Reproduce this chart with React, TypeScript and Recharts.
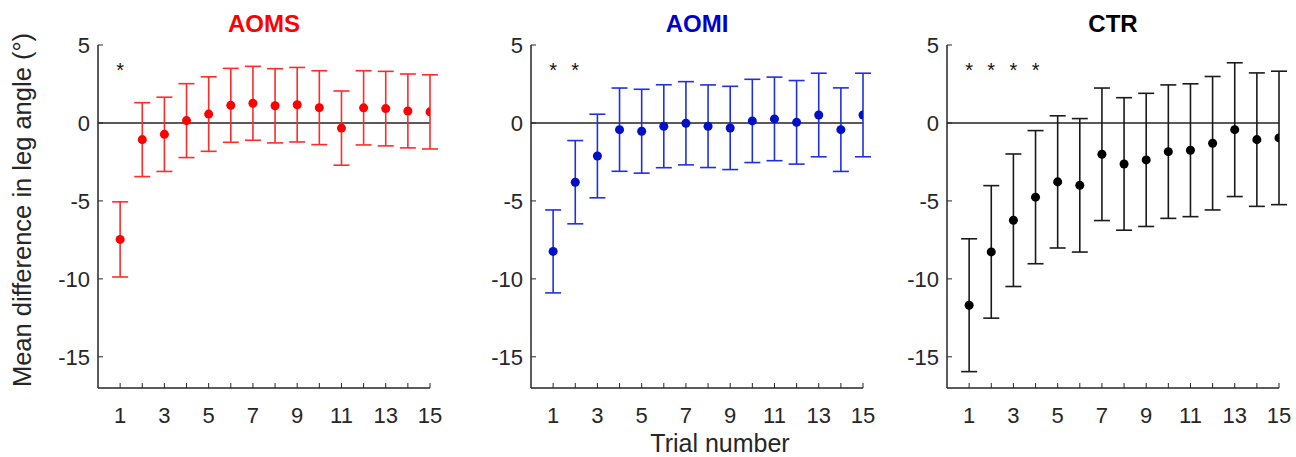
import { ScatterChart, Scatter, XAxis, YAxis, ErrorBar, ReferenceLine } from 'recharts';

const trials = [1, 2, 3, 4, 5, 6, 7, 8, 9, 10, 11, 12, 13, 14, 15];
const yTicks = [-15, -10, -5, 0, 5];

const aomsMean = [-7.47, -1.07, -0.73, 0.15, 0.57, 1.13, 1.26, 1.1, 1.17, 0.98, -0.33, 0.97, 0.92, 0.77, 0.71];
const aomsErr = [2.41, 2.37, 2.38, 2.37, 2.39, 2.37, 2.37, 2.38, 2.39, 2.37, 2.38, 2.38, 2.39, 2.37, 2.38];
const aomsStars = [1];

const aomiMean = [-8.24, -3.8, -2.12, -0.43, -0.53, -0.21, -0.02, -0.21, -0.32, 0.13, 0.26, 0.04, 0.51, -0.43, 0.51];
const aomiErr = [2.66, 2.67, 2.68, 2.67, 2.69, 2.66, 2.67, 2.65, 2.67, 2.67, 2.68, 2.68, 2.68, 2.68, 2.68];
const aomiStars = [1, 2];

const ctrMean = [-11.69, -8.27, -6.24, -4.76, -3.78, -4.0, -2.01, -2.63, -2.37, -1.84, -1.75, -1.3, -0.43, -1.07, -0.96];
const ctrErr = [4.26, 4.25, 4.25, 4.27, 4.24, 4.28, 4.25, 4.25, 4.27, 4.28, 4.26, 4.28, 4.29, 4.28, 4.28];
const ctrStars = [1, 2, 3, 4];

const STAR_Y = 3.65;
const AXIS = '#262626';
const FONT = '"Liberation Sans", Arial, sans-serif';

const PLOT_W = 332;
const Y_W = 60;

const XTick = ({ x, y, payload }: any) => (
  <g>
    <line x1={x} x2={x} y1={y} y2={y - 5} stroke={AXIS} strokeWidth={1} />
    <text x={x} y={y + 35} textAnchor="middle" fontSize={22} fill={AXIS} fontFamily={FONT}>
      {payload.value % 2 === 1 ? payload.value : ''}
    </text>
  </g>
);

const YTick = ({ x, y, payload }: any) => (
  <g>
    <line x1={x} x2={x + 5} y1={y} y2={y} stroke={AXIS} strokeWidth={1} />
    <text x={x - 8} y={y} dy="0.36em" textAnchor="end" fontSize={22} fill={AXIS} fontFamily={FONT}>
      {payload.value}
    </text>
  </g>
);

const Star = ({ cx, cy }: any) => (
  <text x={cx} y={cy + 11} textAnchor="middle" fontSize={20} fill="#111" fontFamily={FONT}>
    *
  </text>
);

interface PanelProps {
  plotLeft: number;
  means: number[];
  errs: number[];
  stars: number[];
  dot: string;
  bar: string;
}

const Panel = ({ plotLeft, means, errs, stars, dot, bar }: PanelProps) => {
  const data = trials.map((t, i) => ({ x: t, y: means[i], err: errs[i] }));
  const starData = stars.map((t) => ({ x: t, y: STAR_Y }));
  return (
    <div style={{ position: 'absolute', left: plotLeft - Y_W, top: 0 }}>
      <ScatterChart
        width={Y_W + PLOT_W + 16}
        height={457}
        margin={{ top: 45, right: 16, bottom: 0, left: 0 }}
      >
        <XAxis
          type="number"
          dataKey="x"
          domain={[0, 15]}
          ticks={trials}
          interval={0}
          height={69}
          tickSize={0}
          tickMargin={0}
          tickLine={false}
          tick={<XTick />}
          axisLine={{ stroke: AXIS, strokeWidth: 1.5 }}
          allowDataOverflow
        />
        <YAxis
          type="number"
          dataKey="y"
          domain={[-17, 5]}
          ticks={yTicks}
          interval={0}
          width={Y_W}
          tickSize={0}
          tickMargin={0}
          tickLine={false}
          tick={<YTick />}
          axisLine={{ stroke: AXIS, strokeWidth: 1.5 }}
          allowDataOverflow
        />
        <ReferenceLine y={0} stroke="#5a5a5a" strokeWidth={2} />
        <Scatter data={data} fill={dot} isAnimationActive={false}>
          <ErrorBar dataKey="err" direction="y" width={8} stroke={bar} strokeWidth={1.6} />
        </Scatter>
        <Scatter data={starData} shape={<Star />} isAnimationActive={false} />
      </ScatterChart>
    </div>
  );
};

const panels = [
  { title: 'AOMS', titleColor: '#ff0000', plotLeft: 98, means: aomsMean, errs: aomsErr, stars: aomsStars, dot: '#ff0000', bar: '#ff2a2a' },
  { title: 'AOMI', titleColor: '#0000cc', plotLeft: 531, means: aomiMean, errs: aomiErr, stars: aomiStars, dot: '#0010c8', bar: '#2030e0' },
  { title: 'CTR', titleColor: '#000000', plotLeft: 947, means: ctrMean, errs: ctrErr, stars: ctrStars, dot: '#000000', bar: '#1a1a1a' },
];

export default function App() {
  return (
    <div style={{ position: 'absolute', left: 0, top: 0, width: 1296, height: 457, background: '#fff', fontFamily: FONT }}>
      {panels.map((p) => (
        <Panel key={p.title} {...p} />
      ))}
      <svg width={1296} height={457} style={{ position: 'absolute', left: 0, top: 0, pointerEvents: 'none' }}>
        {panels.map((p) => (
          <text
            key={p.title}
            x={p.plotLeft + PLOT_W / 2}
            y={32}
            textAnchor="middle"
            fontSize={24}
            fontWeight="bold"
            fill={p.titleColor}
            fontFamily={FONT}
          >
            {p.title}
          </text>
        ))}
        <text
          transform="translate(31,210) rotate(-90)"
          textAnchor="middle"
          fontSize={25.5}
          fill={AXIS}
          fontFamily={FONT}
        >
          Mean difference in leg angle (°)
        </text>
        <text x={720} y={452} textAnchor="middle" fontSize={25} fill={AXIS} fontFamily={FONT}>
          Trial number
        </text>
      </svg>
    </div>
  );
}
